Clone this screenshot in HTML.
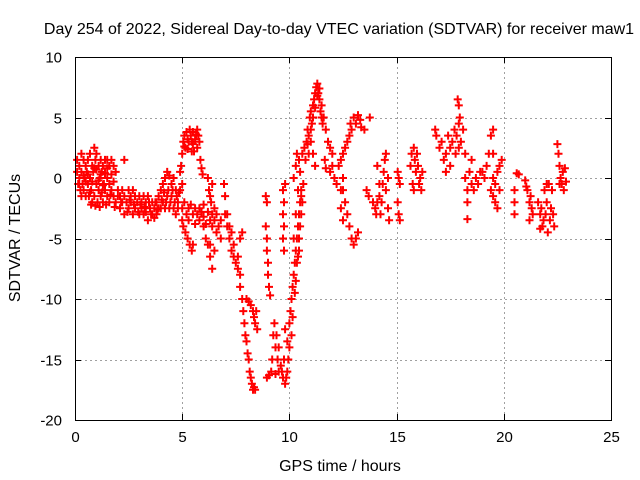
<!DOCTYPE html>
<html><head><meta charset="utf-8"><style>
html,body{margin:0;padding:0;background:#fff;}
svg{display:block;font-family:"Liberation Sans",Arial,sans-serif;}
</style></head><body>
<svg id="chart" width="640" height="480" viewBox="0 0 640 480" xmlns="http://www.w3.org/2000/svg">
<rect width="640" height="480" fill="#fff"/>
<text x="339" y="34" font-size="16" text-anchor="middle">Day 254 of 2022, Sidereal Day-to-day VTEC variation (SDTVAR) for receiver maw1</text>
<text x="340" y="471" font-size="16" text-anchor="middle">GPS time / hours</text>
<text transform="translate(20,238) rotate(-90)" font-size="16" text-anchor="middle">SDTVAR / TECUs</text>
<g id="grid"></g>
<g id="ticks"></g>
<g id="marks"></g>
<rect x="75.5" y="57.5" width="536" height="363" fill="none" stroke="#000" stroke-width="1"/>
</svg>
<script>
const xTicks = [0, 5, 10, 15, 20, 25];
const yTicks = [-20, -15, -10, -5, 0, 5, 10];
const pts = [
[0.1,1.5],[0.1,0.5],[0.15,-0.5],[0.2,1],[0.2,0],[0.25,-1],[0.3,2],[0.3,0.5],[0.35,-0.5],[0.4,1.5],[0.4,-1],[0.45,0],[0.5,1],[0.5,-1.5],[0.55,0.5],[0.6,1.5],[0.6,-0.5],[0.65,-1.5],[0.7,2],[0.7,0],[0.75,-1],[0.8,1],[0.8,-2],[0.85,0.5],[0.9,2.5],[0.9,-1.5],[0.95,1.5],[1.0,2],[1.0,-0.5],[1.05,-2],[1.1,1],[1.1,-1],[1.15,0],[1.2,1.5],[1.2,-1.5],[1.25,0.5],[1.3,1],[1.3,-2],[1.35,-0.5],[1.4,1.5],[1.4,-1],[1.5,1.5],[1.5,0],[1.5,-1.5],[1.6,1],[1.6,-2],[1.7,1.5],[1.7,-1],[1.8,1],[1.8,-1.5],[1.9,0.5],[1.9,-2],[2.0,-1],[2.0,-1.5],[2.3,1.5],
[0.2,-0.5],[0.3,-1.5],[0.4,0.2],[0.5,-0.3],[0.6,0.3],[0.7,-1.2],[0.8,-0.3],[0.9,0.8],[1.0,0.7],[1.1,-0.2],[1.2,0.3],[1.3,-0.6],[1.4,0.4],[1.5,0.8],[1.6,-0.5],[1.7,0.3],[1.8,-0.3],[0.75,-2.2],[0.95,-2.3],[1.15,-2.4],[1.25,-1.2],[1.45,-2.2],[1.65,-1.4],[1.85,-2.4],
[2.1,-1.5],[2.1,-2.5],[2.2,-1],[2.2,-2],[2.3,-1.5],[2.3,-3],[2.4,-2],[2.5,-1],[2.5,-2.5],[2.6,-1.5],[2.6,-2],[2.7,-1],[2.7,-3],[2.8,-1.5],[2.8,-2.5],[2.9,-2],[3.0,-1.5],[3.0,-3],[3.1,-2],[3.1,-2.5],[3.2,-1.5],[3.2,-3],[3.3,-2],[3.3,-2.8],[3.4,-1.5],[3.4,-3.5],[3.5,-2.5],[3.6,-2],[3.6,-3],[3.7,-2.5],[3.7,-3.3],[3.8,-2],[3.8,-3],[3.9,-1.5],[3.9,-2.5],[4.0,-1],[4.0,-2.5],[4.1,-0.5],[4.1,-2],[4.2,0],[4.2,-2.5],[4.3,0.5],[4.3,-1.5],[4.4,0.2],[4.4,-2.5],[4.5,-0.5],[4.5,-1.5],[4.6,0],[4.6,-2.5],[4.7,-1],[4.7,-3],[4.8,-2],[4.8,-2.5],[4.9,-1],[4.9,0.5],[5.0,-0.5],
[2.15,-2],[2.45,-2.8],[2.55,-1.8],[2.75,-2.2],[2.95,-2.8],[3.05,-2.2],[3.25,-2.4],[3.45,-2],[3.55,-3],[3.75,-2],[3.85,-2.6],[4.05,-1.8],[4.15,-1.2],[4.25,-2],[4.35,-1],[4.45,-2],[4.55,-1],[4.65,-2],[4.75,-1.5],[4.85,-1.2],
[4.95,1],[5.0,2],[5.05,3],[5.1,3.5],[5.15,2.5],[5.2,3.8],[5.3,3],[5.35,4],[5.4,3.5],[5.5,2.8],[5.5,3.8],[5.6,3.2],[5.7,4],[5.7,2.5],[5.75,3.5],[5.8,3],[5.85,1.5],[5.9,0.8],[5.95,0.3],[5.55,2.2],
[5.1,2.6],[5.25,3.2],[5.45,3],[5.65,3.6],[5.25,2.4],[5.45,2.2],
[5.0,-2.5],[5.0,-3.5],[5.1,-2],[5.2,-3],[5.3,-2.5],[5.3,-3.5],[5.4,-2.2],[5.5,-3],[5.6,-2.5],[5.6,-3.8],[5.7,-3],[5.8,-2.5],[5.8,-3.5],[5.9,-2.8],[6.0,-3.2],[6.0,-2.2],[6.1,-3.8],[6.2,-2.8],[6.3,-3.5],[6.4,-3],[6.4,-4],[6.5,-3.5],[6.5,-2.5],[6.6,-4.5],[6.6,-3],[6.7,-4],[6.8,-5],[6.8,-3.5],
[5.05,-4],[5.15,-4.5],[5.25,-5],[5.35,-5.5],[5.45,-6],[5.5,-5.5],
[6.2,0],[6.25,-1],[6.3,-1.5],[6.35,-2],[6.4,-0.5],
[6.0,-4],[6.1,-5],[6.2,-5.5],[6.3,-6.5],[6.4,-7.5],[6.5,-6],[6.3,-5.5],
[6.95,-0.5],[7.0,-1.5],[7.0,-3],[7.1,-4],[7.1,-3],[7.2,-5],[7.2,-4],[7.3,-6],[7.3,-4.5],[7.4,-6.5],[7.4,-5.5],[7.5,-7],[7.6,-6.5],[7.6,-7.5],[7.7,-5],[7.7,-8],[7.8,-4.5],
[7.7,-9],[7.8,-10],[7.85,-11],[7.9,-12],[7.95,-13],[8.0,-13.5],[8.05,-14.5],[8.1,-15],[8.15,-16],[8.2,-16.5],[8.25,-17],[8.3,-17.5],[8.35,-17.3],[8.4,-17.5],
[8.0,-10],[8.1,-10.2],[8.2,-10.5],[8.3,-11],[8.35,-11.5],[8.4,-12],[8.45,-11],[8.5,-12.5],
[8.9,-1.5],[8.95,-2],[8.9,-4],[8.95,-6],[9.0,-7],[9.0,-8],[9.05,-9],[9.1,-9.7],[8.95,-5],
[8.95,-16.5],[9.05,-16.3],[9.15,-16],[9.2,-15],[9.25,-13],[9.3,-12],[9.35,-14],[9.4,-13],[9.45,-15],[9.5,-14],[9.5,-16],[9.6,-15.5],[9.35,-16.2],
[9.65,-16],[9.7,-16.5],[9.75,-15],[9.8,-17],[9.85,-16.5],[9.9,-16],[9.95,-15],[10.0,-14],[9.9,-13.5],[9.8,-12.5],
[9.7,-1],[9.75,-2],[9.7,-3],[9.75,-4],[9.7,-5],[9.75,-6],[9.8,-0.5],
[10.0,-12],[10.05,-11],[10.1,-10],[10.15,-9],[10.2,-8],[10.25,-7],[10.3,-6],[10.35,-5],[10.4,-4],[10.45,-3],[10.5,-2],[10.55,-1],[10.2,-5],[10.3,-3],[10.4,-1],[10.35,-7],[10.45,-6],[10.5,-4],
[10.1,-13],[10.15,-11.5],[10.25,-9.5],[10.3,-8.5],[10.4,-6.5],[10.45,-5],[10.55,-3],[10.6,-2],
[10.2,0],[10.3,1],[10.35,2],[10.45,1.5],[10.5,0.5],[10.6,2],[10.65,-0.5],[10.55,-1.5],
[10.7,2.5],[10.8,3],[10.85,4],[10.9,3.5],[10.95,5],[11.0,5.5],[11.05,4.5],[11.1,6],[11.15,6.5],[11.2,7],[11.25,7.5],[11.3,7.8],[11.35,7],[11.4,6.5],[11.45,5.5],[11.5,6],[11.55,4.5],[11.6,5],[11.0,3],[10.9,2],[11.1,2],[11.2,1],
[10.75,1.5],[10.85,2.8],[11.0,4],[11.1,5],[11.2,5.8],[11.3,6.8],[11.4,7.4],[11.5,5],
[11.7,4],[11.8,3],[11.9,2.5],[12.0,2],[12.0,1],[12.1,0],[12.2,-0.5],[12.3,1],[12.4,-1],[12.5,0],[11.9,0.5],[11.65,1.5],[11.7,0.8],
[12.4,1.5],[12.5,2],[12.6,2.5],[12.7,3],[12.8,3.5],[12.85,4.5],[12.9,4],[13.0,5],[13.1,4.5],[13.2,5.2],[13.3,4.8],[13.35,4.2],[13.5,4],[13.75,5],
[12.5,-1],[12.6,-2],[12.7,-3],[12.8,-4],[12.9,-5],[13.0,-5.5],[13.1,-5],[13.2,-4.5],[12.4,-2.5],[12.5,-3.5],
[13.6,-1],[13.7,-1.5],
[13.9,-2],[14.0,-2.5],[14.05,-3],[14.1,-2],[14.2,-1.5],[14.25,-3],[14.3,-2],[14.35,-0.5],[14.4,0.5],[14.45,1.5],[14.5,2],[14.5,-1],[14.6,-2.5],[14.6,0],[14.65,-3.5],[14.2,-0.5],[14.1,1],
[15.05,0.5],[15.1,0],[15.15,-0.5],[15.05,-2],[15.1,-3],[15.15,-3.5],
[15.65,1],[15.7,2],[15.8,2.5],[15.85,1.5],[15.9,0.5],[15.95,2],[16.0,1],[16.05,-0.5],[16.1,0],[16.15,-1],[15.75,-0.5],[15.8,-1],[16.2,0.5],
[16.8,4],[16.85,3.5],
[17.0,2.5],[17.1,3],[17.2,1.5],[17.3,2],[17.4,3.5],[17.5,2.5],[17.5,1],[17.6,3],[17.7,4],[17.75,2],[17.8,3.5],[17.9,2.5],[18.0,3],[18.1,4],[18.2,2],[17.3,0.5],
[17.85,6.5],[17.9,6],[17.95,5],[17.9,4.5],
[18.2,0],[18.3,-1],[18.4,0.5],[18.5,-0.5],[18.6,-1],[18.7,0],[18.8,-0.5],[18.9,0.5],[18.5,1.5],[18.3,-2],[18.3,-3.4],
[19.0,0.5],[19.1,0],[19.2,1],[19.3,2],[19.4,3.5],[19.5,4],[19.5,2],[19.4,-1],[19.5,-1.5],[19.6,-2],[19.6,-0.5],[19.7,0.5],[19.8,1],[19.9,1.5],[19.8,-1],[19.7,-2.5],[19.5,0],
[20.6,0.4],[20.7,0.3],[20.5,-1],[20.5,-2],[20.5,-3],
[21.0,-0.2],[21.05,-0.7],[21.1,-1],[21.2,-2],[21.25,-1.5],[21.3,-2.5],[21.35,-3],[21.2,-3.5],
[21.6,-2],[21.7,-3],[21.75,-2.5],[21.8,-4],[21.85,-3.5],[21.9,-1],[21.95,-3],[22.0,-2],[22.05,-4.5],[22.1,-0.5],[22.15,-3.5],[22.2,-2.5],[22.25,-1],[22.3,-3],[22.35,-4],[21.7,-4.2],[22.0,-0.5],
[22.5,2.8],[22.55,2],[22.6,1],[22.65,0],[22.7,-0.5],[22.75,0.5],[22.8,-1],[22.85,0.8],[22.9,-0.3],[22.6,-0.5]
];

const X0 = 75, X1 = 611, Y0 = 420, Y1 = 57;
const xMin = 0, xMax = 25, yMin = -20, yMax = 10;
function sx(t){ return X0 + (t - xMin) / (xMax - xMin) * (X1 - X0); }
function sy(v){ return Y0 - (v - yMin) / (yMax - yMin) * (Y0 - Y1); }
const NS = 'http://www.w3.org/2000/svg';
function mk(tag, attrs, parent){
  const e = document.createElementNS(NS, tag);
  for (const k in attrs) e.setAttribute(k, attrs[k]);
  parent.appendChild(e);
  return e;
}
const grid = document.getElementById('grid');
const ticks = document.getElementById('ticks');
const marks = document.getElementById('marks');

xTicks.forEach(function(t){
  const x = Math.round(sx(t)) + 0.5;
  if (t > xMin && t < xMax) {
    const g = mk('line', {x1:x, x2:x, y1:Y1, y2:Y0, stroke:'#a0a0a0', 'stroke-dasharray':'2,3', 'stroke-width':1}, grid);
    
    
  }
  mk('line', {x1:x, x2:x, y1:Y0, y2:Y0-6, stroke:'#000'}, ticks);
  mk('line', {x1:x, x2:x, y1:Y1, y2:Y1+6, stroke:'#000'}, ticks);
  const lb = mk('text', {x:x, y:Y0+22, 'font-size':15, 'text-anchor':'middle'}, ticks);
  
  
  lb.textContent = t;
});
yTicks.forEach(function(v){
  const y = Math.round(sy(v)) + 0.5;
  if (v > yMin && v < yMax) {
    const g = mk('line', {x1:X0, x2:X1, y1:y, y2:y, stroke:'#a0a0a0', 'stroke-dasharray':'2,3', 'stroke-width':1}, grid);
    
    
  }
  mk('line', {x1:X0, x2:X0+6, y1:y, y2:y, stroke:'#000'}, ticks);
  mk('line', {x1:X1, x2:X1-6, y1:y, y2:y, stroke:'#000'}, ticks);
  const lb = mk('text', {x:X0-13, y:y+5, 'font-size':15, 'text-anchor':'end'}, ticks);
  
  
  lb.textContent = v;
});

let d = '';
pts.forEach(function(p){
  const x = sx(p[0]), y = sy(p[1]);
  d += 'M' + (x-4).toFixed(1) + ' ' + y.toFixed(1) + 'h8M' + x.toFixed(1) + ' ' + (y-4).toFixed(1) + 'v8';
});
const path = mk('path', {d:d, stroke:'#ff0000', 'stroke-width':2, fill:'none'}, marks);


</script>
</body></html>
